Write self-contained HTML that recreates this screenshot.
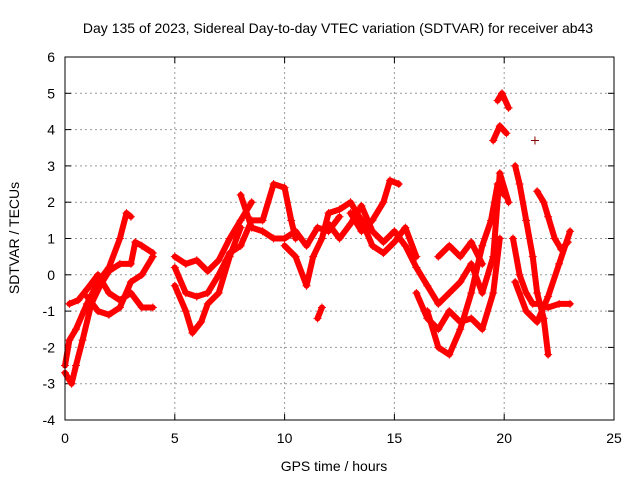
<!DOCTYPE html>
<html><head><meta charset="utf-8"><style>
body{margin:0;background:#fff;}
svg{display:block;font-family:"Liberation Sans",sans-serif;font-size:14px;}
</style></head><body>
<svg id="chart" width="640" height="480">
<text x="338" y="33" text-anchor="middle">Day 135 of 2023, Sidereal Day-to-day VTEC variation (SDTVAR) for receiver ab43</text>
<text x="334" y="471" text-anchor="middle">GPS time / hours</text>
<text transform="translate(19,238) rotate(-90)" text-anchor="middle">SDTVAR / TECUs</text>
<g id="grid"></g>
<g id="axes"></g>
<g id="marks"></g>
<rect x="65" y="57" width="549" height="363" fill="none" stroke="#000"/>
</svg>
<script>
const xTicks=[0,5,10,15,20,25];
const yTicks=[-4,-3,-2,-1,0,1,2,3,4,5,6];
const trackA=[[0,-2.5],[0.2,-1.8],[0.5,-1.5],[1,-0.8],[1.5,-0.2],[2,0.2],[2.5,1.0],[2.8,1.7],[3.0,1.6]];
const trackB=[[0,-2.7],[0.3,-3.0],[0.5,-2.5],[0.8,-1.8],[1.2,-0.8],[1.6,-0.3],[2,0.1],[2.5,0.3],[3,0.3],[3.2,0.9],[3.5,0.8],[4,0.6]];
const trackC=[[0.2,-0.8],[0.6,-0.7],[1,-0.4],[1.5,0],[2,-0.5],[2.5,-0.7],[3,-0.5],[3.5,-0.9],[4,-0.9]];
const trackD=[[1,-0.6],[1.5,-1.0],[2,-1.1],[2.5,-0.9],[3,-0.2],[3.5,0],[4,0.5]];
const trackE=[[5,0.5],[5.5,0.3],[6,0.4],[6.5,0.1],[7,0.4],[7.5,1.0],[8,1.5],[8.5,2.0]];
const trackF=[[5,-0.3],[5.5,-1.0],[5.8,-1.6],[6.2,-1.3],[6.5,-0.8],[7,-0.5],[7.5,0.5],[8,1.3]];
const trackG=[[5,0.2],[5.5,-0.5],[6,-0.6],[6.5,-0.5],[7,0],[7.5,0.6],[8,0.8],[8.5,1.5],[9,1.5],[9.5,2.5],[10,2.4],[10.3,1.5],[10.5,1.0]];
const trackH=[[8,2.2],[8.5,1.3],[9,1.2],[9.5,1.0],[10,1.0],[10.5,1.2],[11,0.8],[11.5,1.3],[12,1.2],[12.5,1.6]];
const trackI=[[10,0.8],[10.5,0.5],[11,-0.3],[11.3,0.5],[11.7,1.0],[12,1.7],[12.5,1.8],[13,2.0],[13.5,1.5],[14,0.8],[14.5,0.6],[15,0.9],[15.5,1.3],[16,0.5]];
const trackJ=[[13,1.7],[13.5,1.2],[14,1.5],[14.5,2.0],[14.8,2.6],[15.2,2.5]];
const trackK=[[12,1.4],[12.5,1.0],[13,1.4],[13.5,1.9],[14,1.2],[14.5,0.9],[15,1.2],[15.5,0.8],[16,0.2],[16.5,-0.3],[17,-0.8],[17.5,-0.5],[18,-0.2],[18.5,0.3],[19,-0.5],[19.5,0.5],[19.8,2.8],[20.2,2.0]];
const trackL=[[16,-0.5],[16.5,-1.2],[17,-1.5],[17.5,-1.0],[18,-1.3],[18.5,-1.2],[19,-1.5],[19.5,-0.5],[19.8,1.0]];
const trackM=[[16.5,-1.0],[17,-2.0],[17.5,-2.2],[18,-1.5],[18.5,-0.5],[19,0.8],[19.4,1.5],[19.7,2.5],[20,2.2]];
const trackN=[[17,0.5],[17.5,0.8],[18,0.5],[18.5,0.9],[19,0.3]];
const trackO=[[11.5,-1.2],[11.7,-0.9]];
const trackP=[[19.5,3.7],[19.8,4.1],[20.1,3.9]];
const trackQ=[[19.7,4.8],[19.9,5.0],[20.2,4.6]];
const trackR=[[20.5,3.0],[20.7,2.5],[21,1.5],[21.3,0.5],[21.5,-0.5],[21.8,-1.2],[22,-2.2]];
const trackS=[[20.4,1.0],[20.7,0.0],[21,-0.5],[21.3,-0.8],[21.6,-0.8],[22,-0.9],[22.5,-0.8],[23,-0.8]];
const trackT=[[20.5,-0.2],[21,-1.0],[21.5,-1.3],[22,-0.6],[22.5,0.3],[23,1.2]];
const trackU=[[21.5,2.3],[21.8,2.0],[22,1.6],[22.3,1.0],[22.6,0.7],[22.9,0.9]];
const trackV=[[21.4,3.7]];
const tracks=[trackA,trackB,trackC,trackD,trackE,trackF,trackG,trackH,trackI,trackJ,trackK,trackL,trackM,trackN,trackO,trackP,trackQ,trackR,trackS,trackT,trackU,trackV];
const NS="http://www.w3.org/2000/svg";
const X0=65,X1=614,Y0=420,Y1=57;
function sx(v){return X0+(v-0)/(25-0)*(X1-X0);}
function sy(v){return Y0-(v+4)/(10)*(Y0-Y1);}
const grid=document.getElementById('grid'),axes=document.getElementById('axes'),marks=document.getElementById('marks');
function mk(t,a,p){const e=document.createElementNS(NS,t);for(const k in a)e.setAttribute(k,a[k]);p.appendChild(e);return e;}
xTicks.forEach(t=>{const x=sx(t);
 if(t>0&&t<25){const g=mk('line',{x1:x,x2:x,y1:Y1,y2:Y0,stroke:'#999','stroke-dasharray':'2,3','stroke-width':1},grid);
 
 }
 mk('line',{x1:x,x2:x,y1:Y0,y2:Y0-6,stroke:'#000'},axes);mk('line',{x1:x,x2:x,y1:Y1,y2:Y1+6,stroke:'#000'},axes);
 const l=mk('text',{x:x,y:Y0+23,'text-anchor':'middle'},axes);l.textContent=t;
 
 });
yTicks.forEach(t=>{const y=sy(t);
 if(t>-4&&t<6){const g=mk('line',{x1:X0,x2:X1,y1:y,y2:y,stroke:'#999','stroke-dasharray':'2,3','stroke-width':1},grid);
 
 }
 mk('line',{x1:X0,x2:X0+6,y1:y,y2:y,stroke:'#000'},axes);mk('line',{x1:X1,x2:X1-6,y1:y,y2:y,stroke:'#000'},axes);
 const l=mk('text',{x:X0-10,y:y+5,'text-anchor':'end'},axes);l.textContent=t;
 
 });
tracks.forEach(tr=>{
 if(tr.length>1){const p=mk('polyline',{points:tr.map(d=>sx(d[0])+','+sy(d[1])).join(' '),fill:'none',stroke:'#f00','stroke-width':6,'stroke-linejoin':'round','stroke-linecap':'round'},marks);
 
 }
 tr.forEach(d=>{const x=sx(d[0]),y=sy(d[1]);
 const m=mk('path',{d:`M${x-4},${y}H${x+4}M${x},${y-4}V${y+4}`,stroke:tr.length>1?'#f00':'#800',fill:'none','stroke-width':1},marks);
 
 });
});
</script>
</body></html>
